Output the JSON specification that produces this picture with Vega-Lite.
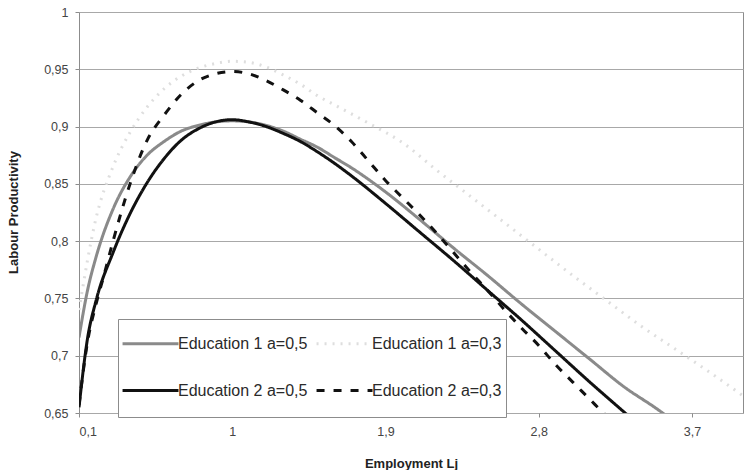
{
  "$schema": "https://vega.github.io/schema/vega-lite/v6.json",
  "width": 664,
  "height": 401,
  "autosize": {"type": "none"},
  "padding": {"left": 79, "top": 12, "right": 4, "bottom": 57},
  "background": "white",
  "config": {
    "font": "Liberation Sans",
    "view": {"stroke": "#8c8c8c", "strokeWidth": 1},
    "axis": {
      "labelFont": "Liberation Sans",
      "labelFontSize": 12.5,
      "labelColor": "#444444",
      "titleFont": "Liberation Sans",
      "titleFontSize": 13,
      "titleFontWeight": "bold",
      "titleColor": "#222",
      "tickColor": "#8c8c8c",
      "tickSize": 4,
      "domain": false,
      "gridColor": "#a8a8a8",
      "gridWidth": 1
    },
    "legend": {
      "orient": "none",
      "direction": "horizontal",
      "legendX": 39,
      "legendY": 307,
      "columns": 2,
      "fillColor": "white",
      "strokeColor": "#8c8c8c",
      "padding": 4,
      "symbolType": "M-1.05,0H1.895M0,0.84",
      "symbolSize": 1444,
      "symbolStrokeWidth": 3,
      "labelFont": "Liberation Sans",
      "labelFontSize": 16,
      "labelColor": "#2a2a2a",
      "labelOffset": 15,
      "labelLimit": 220,
      "columnPadding": 2,
      "rowPadding": 4
    }
  },
  "data": {
    "values": [
      {"L": 0.1, "p": 0.716, "s": "Education 1 a=0,5"},
      {"L": 0.15, "p": 0.757, "s": "Education 1 a=0,5"},
      {"L": 0.2, "p": 0.786, "s": "Education 1 a=0,5"},
      {"L": 0.3, "p": 0.828, "s": "Education 1 a=0,5"},
      {"L": 0.4, "p": 0.856, "s": "Education 1 a=0,5"},
      {"L": 0.5, "p": 0.875, "s": "Education 1 a=0,5"},
      {"L": 0.6, "p": 0.887, "s": "Education 1 a=0,5"},
      {"L": 0.7, "p": 0.896, "s": "Education 1 a=0,5"},
      {"L": 0.8, "p": 0.901, "s": "Education 1 a=0,5"},
      {"L": 0.9, "p": 0.904, "s": "Education 1 a=0,5"},
      {"L": 1.0, "p": 0.905, "s": "Education 1 a=0,5"},
      {"L": 1.1, "p": 0.904, "s": "Education 1 a=0,5"},
      {"L": 1.2, "p": 0.901, "s": "Education 1 a=0,5"},
      {"L": 1.3, "p": 0.896, "s": "Education 1 a=0,5"},
      {"L": 1.4, "p": 0.889, "s": "Education 1 a=0,5"},
      {"L": 1.5, "p": 0.882, "s": "Education 1 a=0,5"},
      {"L": 1.6, "p": 0.873, "s": "Education 1 a=0,5"},
      {"L": 1.7, "p": 0.864, "s": "Education 1 a=0,5"},
      {"L": 1.9, "p": 0.843, "s": "Education 1 a=0,5"},
      {"L": 2.1, "p": 0.819, "s": "Education 1 a=0,5"},
      {"L": 2.3, "p": 0.794, "s": "Education 1 a=0,5"},
      {"L": 2.5, "p": 0.770, "s": "Education 1 a=0,5"},
      {"L": 2.7, "p": 0.745, "s": "Education 1 a=0,5"},
      {"L": 2.9, "p": 0.721, "s": "Education 1 a=0,5"},
      {"L": 3.1, "p": 0.697, "s": "Education 1 a=0,5"},
      {"L": 3.3, "p": 0.673, "s": "Education 1 a=0,5"},
      {"L": 3.5, "p": 0.653, "s": "Education 1 a=0,5"},
      {"L": 3.6, "p": 0.642, "s": "Education 1 a=0,5"},

      {"L": 0.1, "p": 0.740, "s": "Education 1 a=0,3"},
      {"L": 0.2, "p": 0.820, "s": "Education 1 a=0,3"},
      {"L": 0.3, "p": 0.865, "s": "Education 1 a=0,3"},
      {"L": 0.4, "p": 0.895, "s": "Education 1 a=0,3"},
      {"L": 0.5, "p": 0.917, "s": "Education 1 a=0,3"},
      {"L": 0.6, "p": 0.933, "s": "Education 1 a=0,3"},
      {"L": 0.7, "p": 0.944, "s": "Education 1 a=0,3"},
      {"L": 0.8, "p": 0.951, "s": "Education 1 a=0,3"},
      {"L": 0.9, "p": 0.955, "s": "Education 1 a=0,3"},
      {"L": 1.0, "p": 0.957, "s": "Education 1 a=0,3"},
      {"L": 1.1, "p": 0.956, "s": "Education 1 a=0,3"},
      {"L": 1.2, "p": 0.952, "s": "Education 1 a=0,3"},
      {"L": 1.3, "p": 0.945, "s": "Education 1 a=0,3"},
      {"L": 1.4, "p": 0.937, "s": "Education 1 a=0,3"},
      {"L": 1.5, "p": 0.927, "s": "Education 1 a=0,3"},
      {"L": 1.6, "p": 0.919, "s": "Education 1 a=0,3"},
      {"L": 1.8, "p": 0.903, "s": "Education 1 a=0,3"},
      {"L": 2.0, "p": 0.886, "s": "Education 1 a=0,3"},
      {"L": 2.2, "p": 0.862, "s": "Education 1 a=0,3"},
      {"L": 2.4, "p": 0.839, "s": "Education 1 a=0,3"},
      {"L": 2.6, "p": 0.816, "s": "Education 1 a=0,3"},
      {"L": 2.8, "p": 0.793, "s": "Education 1 a=0,3"},
      {"L": 3.0, "p": 0.770, "s": "Education 1 a=0,3"},
      {"L": 3.2, "p": 0.748, "s": "Education 1 a=0,3"},
      {"L": 3.4, "p": 0.726, "s": "Education 1 a=0,3"},
      {"L": 3.6, "p": 0.706, "s": "Education 1 a=0,3"},
      {"L": 3.8, "p": 0.686, "s": "Education 1 a=0,3"},
      {"L": 4.0, "p": 0.665, "s": "Education 1 a=0,3"},

      {"L": 0.1, "p": 0.655, "s": "Education 2 a=0,5"},
      {"L": 0.15, "p": 0.715, "s": "Education 2 a=0,5"},
      {"L": 0.2, "p": 0.748, "s": "Education 2 a=0,5"},
      {"L": 0.3, "p": 0.790, "s": "Education 2 a=0,5"},
      {"L": 0.4, "p": 0.824, "s": "Education 2 a=0,5"},
      {"L": 0.5, "p": 0.851, "s": "Education 2 a=0,5"},
      {"L": 0.6, "p": 0.872, "s": "Education 2 a=0,5"},
      {"L": 0.7, "p": 0.888, "s": "Education 2 a=0,5"},
      {"L": 0.8, "p": 0.898, "s": "Education 2 a=0,5"},
      {"L": 0.9, "p": 0.904, "s": "Education 2 a=0,5"},
      {"L": 1.0, "p": 0.906, "s": "Education 2 a=0,5"},
      {"L": 1.1, "p": 0.904, "s": "Education 2 a=0,5"},
      {"L": 1.2, "p": 0.900, "s": "Education 2 a=0,5"},
      {"L": 1.3, "p": 0.894, "s": "Education 2 a=0,5"},
      {"L": 1.4, "p": 0.887, "s": "Education 2 a=0,5"},
      {"L": 1.5, "p": 0.878, "s": "Education 2 a=0,5"},
      {"L": 1.6, "p": 0.868, "s": "Education 2 a=0,5"},
      {"L": 1.7, "p": 0.857, "s": "Education 2 a=0,5"},
      {"L": 1.9, "p": 0.833, "s": "Education 2 a=0,5"},
      {"L": 2.1, "p": 0.808, "s": "Education 2 a=0,5"},
      {"L": 2.3, "p": 0.783, "s": "Education 2 a=0,5"},
      {"L": 2.5, "p": 0.757, "s": "Education 2 a=0,5"},
      {"L": 2.7, "p": 0.731, "s": "Education 2 a=0,5"},
      {"L": 2.9, "p": 0.704, "s": "Education 2 a=0,5"},
      {"L": 3.1, "p": 0.677, "s": "Education 2 a=0,5"},
      {"L": 3.3, "p": 0.651, "s": "Education 2 a=0,5"},
      {"L": 3.4, "p": 0.638, "s": "Education 2 a=0,5"},

      {"L": 0.1, "p": 0.657, "s": "Education 2 a=0,3"},
      {"L": 0.15, "p": 0.712, "s": "Education 2 a=0,3"},
      {"L": 0.2, "p": 0.745, "s": "Education 2 a=0,3"},
      {"L": 0.25, "p": 0.772, "s": "Education 2 a=0,3"},
      {"L": 0.3, "p": 0.800, "s": "Education 2 a=0,3"},
      {"L": 0.4, "p": 0.850, "s": "Education 2 a=0,3"},
      {"L": 0.5, "p": 0.888, "s": "Education 2 a=0,3"},
      {"L": 0.6, "p": 0.910, "s": "Education 2 a=0,3"},
      {"L": 0.7, "p": 0.928, "s": "Education 2 a=0,3"},
      {"L": 0.8, "p": 0.940, "s": "Education 2 a=0,3"},
      {"L": 0.9, "p": 0.946, "s": "Education 2 a=0,3"},
      {"L": 1.0, "p": 0.948, "s": "Education 2 a=0,3"},
      {"L": 1.1, "p": 0.946, "s": "Education 2 a=0,3"},
      {"L": 1.2, "p": 0.940, "s": "Education 2 a=0,3"},
      {"L": 1.3, "p": 0.932, "s": "Education 2 a=0,3"},
      {"L": 1.4, "p": 0.923, "s": "Education 2 a=0,3"},
      {"L": 1.5, "p": 0.912, "s": "Education 2 a=0,3"},
      {"L": 1.6, "p": 0.901, "s": "Education 2 a=0,3"},
      {"L": 1.7, "p": 0.887, "s": "Education 2 a=0,3"},
      {"L": 1.8, "p": 0.870, "s": "Education 2 a=0,3"},
      {"L": 1.9, "p": 0.853, "s": "Education 2 a=0,3"},
      {"L": 2.0, "p": 0.838, "s": "Education 2 a=0,3"},
      {"L": 2.1, "p": 0.823, "s": "Education 2 a=0,3"},
      {"L": 2.2, "p": 0.807, "s": "Education 2 a=0,3"},
      {"L": 2.3, "p": 0.790, "s": "Education 2 a=0,3"},
      {"L": 2.4, "p": 0.773, "s": "Education 2 a=0,3"},
      {"L": 2.5, "p": 0.757, "s": "Education 2 a=0,3"},
      {"L": 2.6, "p": 0.740, "s": "Education 2 a=0,3"},
      {"L": 2.7, "p": 0.724, "s": "Education 2 a=0,3"},
      {"L": 2.8, "p": 0.709, "s": "Education 2 a=0,3"},
      {"L": 2.9, "p": 0.692, "s": "Education 2 a=0,3"},
      {"L": 3.0, "p": 0.677, "s": "Education 2 a=0,3"},
      {"L": 3.1, "p": 0.662, "s": "Education 2 a=0,3"},
      {"L": 3.2, "p": 0.647, "s": "Education 2 a=0,3"}
    ]
  },
  "mark": {"type": "line", "strokeWidth": 3, "clip": true, "interpolate": "monotone"},
  "encoding": {
    "x": {
      "field": "L",
      "type": "quantitative",
      "scale": {"domain": [0.1, 4.0], "nice": false, "zero": false},
      "axis": {
        "title": "Employment Lj",
        "values": [0.1, 1, 1.9, 2.8, 3.7],
        "labelExpr": "replace(format(datum.value, '.1~f'), '.', ',')",
        "labelPadding": 8,
        "grid": false,
        "titleY": 50,
        "titleBaseline": "middle"
      }
    },
    "y": {
      "field": "p",
      "type": "quantitative",
      "scale": {"domain": [0.65, 1.0], "nice": false, "zero": false},
      "axis": {
        "title": "Labour Productivity",
        "values": [0.65, 0.7, 0.75, 0.8, 0.85, 0.9, 0.95, 1.0],
        "labelExpr": "replace(format(datum.value, '.2~f'), '.', ',')",
        "labelPadding": 7,
        "grid": true,
        "titleX": -66,
        "titleY": 200,
        "titleBaseline": "middle",
        "titleAlign": "center",
        "titleAngle": -90
      }
    },
    "color": {
      "field": "s",
      "type": "nominal",
      "scale": {
        "domain": ["Education 1 a=0,5", "Education 1 a=0,3", "Education 2 a=0,5", "Education 2 a=0,3"],
        "range": ["#8a8a8a", "#dedede", "#111111", "#111111"]
      },
      "legend": {"title": null}
    },
    "strokeDash": {
      "field": "s",
      "type": "nominal",
      "scale": {
        "domain": ["Education 1 a=0,5", "Education 1 a=0,3", "Education 2 a=0,5", "Education 2 a=0,3"],
        "range": [[1, 0], [2, 6], [1, 0], [8, 9]]
      },
      "legend": {"title": null}
    }
  }
}
